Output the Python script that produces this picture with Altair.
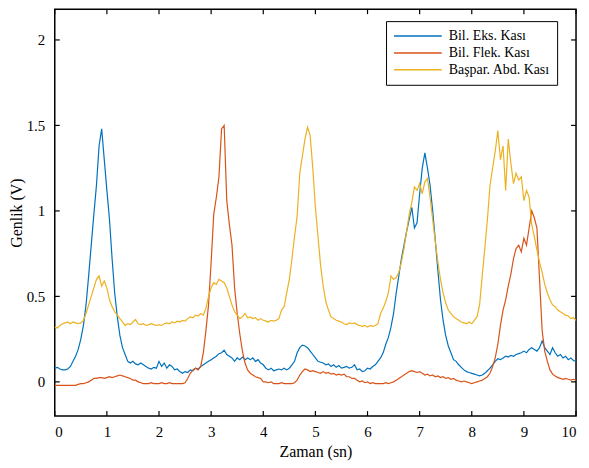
import altair as alt
import pandas as pd

series_names = ["Bil. Eks. Kası", "Bil. Flek. Kası", "Başpar. Abd. Kası"]
colors = ["#0072BD", "#D95319", "#EDB120"]

# time grid, 0.05 s step
times = [round(i * 0.05, 2) for i in range(201)]

eks = [
    0.08, 0.085, 0.075, 0.07, 0.07, 0.075, 0.09, 0.12, 0.15, 0.19, 0.25, 0.33, 0.45, 0.62, 0.8, 0.98, 1.15, 1.38, 1.48, 1.3,
    1.12, 0.95, 0.72, 0.52, 0.38, 0.27, 0.2, 0.16, 0.12, 0.11, 0.12, 0.105, 0.1, 0.11, 0.1, 0.09, 0.08, 0.075, 0.085, 0.08,
    0.12, 0.09, 0.11, 0.08, 0.1, 0.09, 0.07, 0.075, 0.06, 0.05, 0.06, 0.055, 0.07, 0.065, 0.08, 0.075, 0.09, 0.1, 0.11, 0.12,
    0.13, 0.14, 0.15, 0.165, 0.17, 0.185, 0.16, 0.15, 0.14, 0.12, 0.14, 0.13, 0.145, 0.13, 0.14, 0.13, 0.14, 0.12, 0.13, 0.11,
    0.1, 0.08, 0.07, 0.08, 0.065, 0.07, 0.075, 0.07, 0.08, 0.07, 0.08, 0.1, 0.12, 0.17, 0.2, 0.215, 0.21, 0.2, 0.18, 0.16,
    0.14, 0.12, 0.115, 0.11, 0.1, 0.105, 0.09, 0.1, 0.085, 0.095, 0.08, 0.085, 0.09, 0.08, 0.085, 0.1, 0.07, 0.075, 0.06, 0.065,
    0.08, 0.075, 0.09, 0.1, 0.12, 0.14, 0.17, 0.22, 0.26, 0.32, 0.4, 0.52, 0.62, 0.72, 0.8, 0.88, 0.95, 1.02, 0.9, 0.93,
    1.1, 1.25, 1.34, 1.25, 1.15, 1.0, 0.83, 0.65, 0.48, 0.36, 0.27, 0.21, 0.17, 0.13, 0.12, 0.1, 0.085, 0.07, 0.06, 0.055,
    0.05, 0.045, 0.04, 0.035, 0.04, 0.05, 0.065, 0.08, 0.1, 0.12, 0.135, 0.13, 0.14, 0.15, 0.145, 0.155, 0.15, 0.16, 0.165, 0.17,
    0.18, 0.17, 0.19, 0.2, 0.19, 0.18, 0.2, 0.24, 0.2, 0.18, 0.16, 0.2, 0.17, 0.15, 0.16, 0.14, 0.15, 0.13, 0.14, 0.125,
    0.12,
]

flek = [
    -0.02, -0.02, -0.02, -0.02, -0.02, -0.02, -0.02, -0.02, -0.02, -0.015, -0.01, -0.01, -0.005, 0.0, 0.01, 0.02, 0.02, 0.025, 0.025, 0.02,
    0.025, 0.03, 0.025, 0.03, 0.035, 0.04, 0.035, 0.03, 0.025, 0.02, 0.01, 0.01, 0.0, -0.005, -0.01, -0.01, -0.01, -0.005, -0.01, -0.01,
    -0.01, -0.005, -0.01, -0.01, -0.005, -0.01, -0.01, -0.01, -0.01, -0.01, -0.005, 0.02, 0.05, 0.07, 0.08, 0.07, 0.09, 0.17, 0.3, 0.45,
    0.7, 0.98, 1.08, 1.2, 1.48, 1.5, 1.06, 0.92, 0.8, 0.55, 0.4, 0.28, 0.18, 0.11, 0.07, 0.05, 0.04, 0.03, 0.025, 0.02,
    0.0, 0.0, -0.005, 0.0, -0.01, -0.01, -0.01, -0.005, -0.01, -0.01, -0.01, -0.01, -0.005, 0.01, 0.04, 0.06, 0.075, 0.07, 0.06, 0.065,
    0.06, 0.055, 0.05, 0.06, 0.05, 0.055, 0.045, 0.05, 0.04, 0.045, 0.04, 0.045, 0.03, 0.03, 0.02, 0.02, 0.01, 0.0, 0.005, -0.005,
    0.0, -0.01, -0.005, -0.01, -0.01, -0.01, -0.01, -0.005, -0.01, -0.005, 0.0, 0.01, 0.02, 0.03, 0.04, 0.05, 0.06, 0.065, 0.06, 0.055,
    0.06, 0.05, 0.04, 0.045, 0.035, 0.04, 0.03, 0.035, 0.025, 0.03, 0.02, 0.025, 0.015, 0.02, 0.01, 0.005, 0.0, 0.005, 0.0, -0.005,
    -0.01, -0.005, 0.0, 0.005, 0.01, 0.02, 0.03, 0.05, 0.09, 0.14, 0.22, 0.33, 0.42, 0.48, 0.56, 0.63, 0.72, 0.78, 0.8, 0.76,
    0.84, 0.8, 0.9, 1.0, 0.96, 0.9, 0.6, 0.3, 0.18, 0.12, 0.07, 0.045, 0.035, 0.025, 0.02, 0.015, 0.02, 0.015, 0.01, 0.015,
    0.01,
]

baspar = [
    0.32, 0.315, 0.33, 0.34, 0.345, 0.35, 0.34, 0.35, 0.345, 0.34, 0.345, 0.36, 0.4, 0.45, 0.5, 0.55, 0.6, 0.62, 0.56, 0.59,
    0.55, 0.48, 0.44, 0.41, 0.39, 0.37, 0.35, 0.33, 0.34, 0.335, 0.35, 0.365, 0.34, 0.335, 0.34, 0.33, 0.335, 0.34, 0.335, 0.33,
    0.335, 0.33, 0.34, 0.345, 0.34, 0.35, 0.345, 0.355, 0.35, 0.36, 0.355, 0.37, 0.38, 0.375, 0.39, 0.385, 0.4, 0.39, 0.43, 0.5,
    0.55, 0.58, 0.57, 0.6, 0.59, 0.58, 0.55, 0.5, 0.45, 0.41, 0.39, 0.37, 0.38, 0.4, 0.375, 0.38, 0.37, 0.375, 0.36, 0.37,
    0.36, 0.355, 0.35, 0.36, 0.355, 0.36, 0.37, 0.42, 0.44, 0.52, 0.6, 0.72, 0.85, 0.97, 1.22, 1.32, 1.42, 1.49, 1.44, 1.25,
    1.02, 0.85, 0.68, 0.56, 0.47, 0.42, 0.38, 0.37, 0.36, 0.355, 0.35, 0.34, 0.335, 0.345, 0.34, 0.345, 0.335, 0.33, 0.325, 0.33,
    0.32, 0.33, 0.325, 0.33, 0.34, 0.4, 0.43, 0.47, 0.52, 0.62, 0.6, 0.61, 0.64, 0.7, 0.78, 0.88, 0.98, 1.05, 1.14, 1.12,
    1.16, 1.1, 1.17, 1.19, 1.08, 0.95, 0.82, 0.7, 0.6, 0.52, 0.46, 0.42, 0.4, 0.38, 0.37, 0.36, 0.35, 0.345, 0.34, 0.35,
    0.34, 0.36, 0.38, 0.45, 0.62, 0.78, 0.95, 1.15, 1.25, 1.35, 1.47, 1.3, 1.38, 1.12, 1.42, 1.28, 1.16, 1.22, 1.18, 1.2,
    1.06, 1.12, 1.08, 0.92, 0.85, 0.77, 0.7, 0.64, 0.57, 0.52, 0.48, 0.45, 0.44, 0.42, 0.41, 0.4, 0.39, 0.385, 0.37, 0.375,
    0.36,
]

x_ticks = [0, 1, 2, 3, 4, 5, 6, 7, 8, 9, 10]
y_ticks = [0, 0.5, 1, 1.5, 2]

W, H = 524, 409
FONT = "Liberation Serif"

rows = []
for name, vals in zip(series_names, [eks, flek, baspar]):
    for t, v in zip(times, vals):
        rows.append({"t": t, "v": v, "s": name})
df = pd.DataFrame(rows)

xscale = alt.Scale(domain=[0, 10], nice=False, zero=False)
yscale = alt.Scale(domain=[-0.2, 2.18], nice=False, zero=False)

lines = alt.Chart(df).mark_line(strokeWidth=1.2).encode(
    x=alt.X("t:Q", scale=xscale,
            axis=alt.Axis(values=x_ticks, title="Zaman (sn)", domain=False, ticks=False,
                          grid=False, labelPadding=9, titlePadding=4, format="d",
                          labelFont=FONT, labelFontSize=15, labelColor="black",
                          titleFont=FONT, titleFontSize=16, titleColor="black",
                          titleFontWeight="normal")),
    y=alt.Y("v:Q", scale=yscale,
            axis=alt.Axis(values=y_ticks, title="Genlik (V)", domain=False, ticks=False,
                          grid=False, labelPadding=10, titleX=-30, format="~g",
                          labelFont=FONT, labelFontSize=15, labelColor="black",
                          titleFont=FONT, titleFontSize=16, titleColor="black",
                          titleFontWeight="normal")),
    color=alt.Color("s:N", scale=alt.Scale(domain=series_names, range=colors),
                    legend=alt.Legend(title=None, orient="none", legendX=333, legendY=12,
                                      symbolType="stroke", symbolSize=2304, symbolStrokeWidth=1.5,
                                      clipHeight=16, labelFont=FONT, labelFontSize=14,
                                      labelColor="black", strokeColor="black", fillColor="white",
                                      padding=7, rowPadding=1, labelOffset=6)),
)

xt = pd.DataFrame({"x": x_ticks})
yt = pd.DataFrame({"y": y_ticks})

xb = alt.Chart(xt).mark_rule(color="black", strokeWidth=1.2).encode(
    x=alt.X("x:Q", scale=xscale), y=alt.value(H), y2=alt.value(H - 5))
xtop = alt.Chart(xt).mark_rule(color="black", strokeWidth=1.2).encode(
    x=alt.X("x:Q", scale=xscale), y=alt.value(0), y2=alt.value(5))
yl = alt.Chart(yt).mark_rule(color="black", strokeWidth=1.2).encode(
    y=alt.Y("y:Q", scale=yscale), x=alt.value(0), x2=alt.value(5))
yr = alt.Chart(yt).mark_rule(color="black", strokeWidth=1.2).encode(
    y=alt.Y("y:Q", scale=yscale), x=alt.value(W), x2=alt.value(W - 5))

chart = alt.layer(lines, xb, xtop, yl, yr).properties(
    width=W, height=H,
    background="white",
    autosize=alt.AutoSizeParams(type="none"),
    padding={"left": 47, "top": 0, "right": 5, "bottom": 45},
).configure_view(
    stroke="black", strokeWidth=1.5
)

chart.save("out.html", embed_options={"renderer": "svg", "actions": False})
